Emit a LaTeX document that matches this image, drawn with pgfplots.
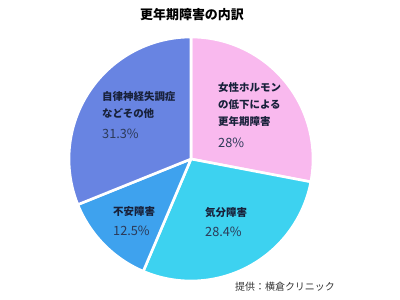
\documentclass[border=0pt]{standalone}
\usepackage{pgfplots}
\pgfplotsset{compat=1.18}
\usepackage{fontspec}
\setmainfont{Noto Sans CJK JP}
\definecolor{cpink}{HTML}{F9B9EE}
\definecolor{ccyan}{HTML}{3DD2F0}
\definecolor{cblue}{HTML}{3EA2EE}
\definecolor{cperi}{HTML}{6884E2}
\definecolor{clab}{HTML}{18213A}
\definecolor{cpct}{HTML}{2C3A58}
% shares in percent
\def\pA{28}   % 女性ホルモンの低下による更年期障害
\def\pB{28.4} % 気分障害
\def\pC{12.5} % 不安障害
\def\pD{31.3} % 自律神経失調症などその他
\pgfmathsetmacro\aA{90}
\pgfmathsetmacro\aB{\aA-3.6*\pA}
\pgfmathsetmacro\aC{\aB-3.6*\pB}
\pgfmathsetmacro\aD{\aC-3.6*\pC}
\pgfmathsetmacro\aE{-270}
\begin{document}
\begin{tikzpicture}
\useasboundingbox (0,0) rectangle (400bp,300bp);
\begin{axis}[
  at={(0,0)}, anchor=south west,
  scale only axis, width=400bp, height=300bp,
  xmin=0, xmax=400, ymin=0, ymax=300,
  hide axis, clip=false,
]
\addplot[fill=cpink, draw=white, line width=2.6bp, line join=round, domain=\aB:\aA, samples=80, variable=\t]
  ({191+122*cos(\t)}, {141+122*sin(\t)}) -- (axis cs:191,141) -- cycle;
\addplot[fill=ccyan, draw=white, line width=2.6bp, line join=round, domain=\aC:\aB, samples=80, variable=\t]
  ({191+122*cos(\t)}, {141+122*sin(\t)}) -- (axis cs:191,141) -- cycle;
\addplot[fill=cblue, draw=white, line width=2.6bp, line join=round, domain=\aD:\aC, samples=40, variable=\t]
  ({191+122*cos(\t)}, {141+122*sin(\t)}) -- (axis cs:191,141) -- cycle;
\addplot[fill=cperi, draw=white, line width=2.6bp, line join=round, domain=\aE:\aD, samples=80, variable=\t]
  ({191+122*cos(\t)}, {141+122*sin(\t)}) -- (axis cs:191,141) -- cycle;

\node[font=\bfseries\fontsize{13}{15}\selectfont, text=black] at (axis cs:192,285) {更年期障害の内訳};

\begin{scope}[every node/.style={anchor=west, inner sep=0pt, text=clab, font=\bfseries\fontsize{10.5}{12}\selectfont}]
\node at (axis cs:218,212) {女性ホルモン};
\node at (axis cs:218,195) {の低下による};
\node at (axis cs:218,178) {更年期障害};
\node at (axis cs:102,203) {自律神経失調症};
\node at (axis cs:102,186) {などその他};
\node at (axis cs:113,88) {不安障害};
\node at (axis cs:205,87) {気分障害};
\end{scope}
\begin{scope}[every node/.style={anchor=west, inner sep=0pt, text=cpct, font=\fontsize{12.8}{14}\selectfont}]
\node at (axis cs:218,157) {28\%};
\node at (axis cs:102,166) {31.3\%};
\node at (axis cs:113,69) {12.5\%};
\node at (axis cs:205,68) {28.4\%};
\end{scope}
\node[anchor=west, inner sep=0pt, text=black!80, font=\fontsize{10}{12}\selectfont] at (axis cs:235,13) {提供：横倉クリニック};
\end{axis}
\end{tikzpicture}
\end{document}
